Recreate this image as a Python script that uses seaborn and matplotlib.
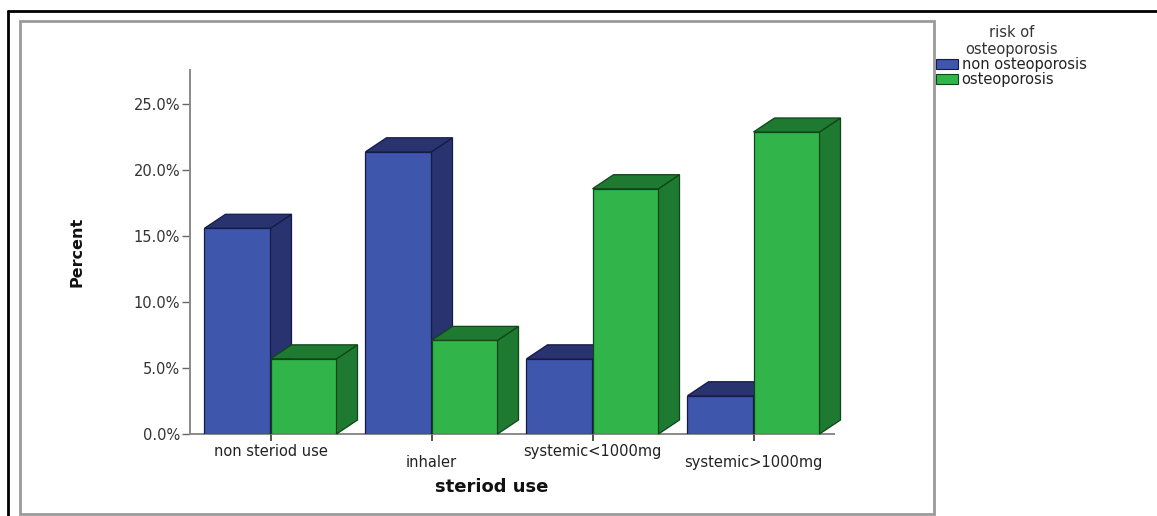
import matplotlib
matplotlib.use("Agg")
import matplotlib.pyplot as plt
import numpy as np
import pandas as pd
import seaborn as sns
from matplotlib.patches import Polygon, Patch, Rectangle
from matplotlib.lines import Line2D

# Percent of patients by steroid use, split by osteoporosis risk
steroid_use = ["non steriod use", "inhaler", "systemic<1000mg", "systemic>1000mg"]
risk_levels = ["non osteoporosis", "osteoporosis"]
pct_non_osteo = [15.6, 21.4, 5.7, 2.9]
pct_osteo = [5.7, 7.1, 18.6, 22.9]
y_ticks = [0, 5, 10, 15, 20, 25]

df = pd.DataFrame({
    "steriod use": steroid_use * 2,
    "risk": [risk_levels[0]] * 4 + [risk_levels[1]] * 4,
    "Percent": pct_non_osteo + pct_osteo,
})

front_col = {"non osteoporosis": "#3F56AD", "osteoporosis": "#31B54B"}
shade_col = {"non osteoporosis": "#29336F", "osteoporosis": "#1F7A31"}
edge_col = {"non osteoporosis": "#151B44", "osteoporosis": "#0E4519"}

sns.set_theme(style="white")
plt.rcParams["font.family"] = ["DejaVu Sans"]

W, H = 1157, 516
fig = plt.figure(figsize=(W / 100, H / 100), dpi=100)
ax_left, ax_right, ax_top, ax_bottom = 190, 834, 70, 434
ax = fig.add_axes([ax_left / W, (H - ax_bottom) / H,
                   (ax_right - ax_left) / W, (ax_bottom - ax_top) / H])

sns.barplot(data=df, x="steriod use", y="Percent", hue="risk",
            order=steroid_use, hue_order=risk_levels, palette=front_col,
            width=0.82, saturation=1, legend=False, errorbar=None,
            linewidth=0.9, ax=ax)

ax.set_xlim(-0.5, 3.5)
ax.set_ylim(0, 27.6)

# depth of the extruded bars, given in pixels and converted to data units
dx = 21 / (ax_right - ax_left) * 4.0
dy = 14 / (ax_bottom - ax_top) * 27.6

bars = list(ax.patches)
bar_info = []
for i, p in enumerate(bars):
    level = risk_levels[i // len(steroid_use)]
    bar_info.append((p.get_x(), p, level))
bar_info.sort(key=lambda t: t[0])

for k, (x0, p, level) in enumerate(bar_info):
    w = p.get_width()
    h = p.get_height()
    z = 2 + k * 0.1
    p.set_facecolor(front_col[level])
    p.set_edgecolor(edge_col[level])
    p.set_zorder(z)
    top = Polygon([(x0, h), (x0 + dx, h + dy), (x0 + w + dx, h + dy), (x0 + w, h)],
                  closed=True, fc=shade_col[level], ec=edge_col[level], lw=0.9,
                  zorder=z, clip_on=False)
    side = Polygon([(x0 + w, 0), (x0 + w, h), (x0 + w + dx, h + dy), (x0 + w + dx, dy)],
                   closed=True, fc=shade_col[level], ec=edge_col[level], lw=0.9,
                   zorder=z, clip_on=False)
    ax.add_patch(side)
    ax.add_patch(top)

# axes styling
for s in ["top", "right"]:
    ax.spines[s].set_visible(False)
for s in ["left", "bottom"]:
    ax.spines[s].set_color("#8a8a8a")
    ax.spines[s].set_linewidth(1.4)
    ax.spines[s].set_zorder(1)

ax.set_yticks(y_ticks)
ax.set_yticklabels([f"{v:.1f}%" for v in y_ticks])
ax.tick_params(axis="y", left=True, length=6, width=1.0, color="#666666",
               labelsize=10.5, labelcolor="#333333", pad=1)
ax.tick_params(axis="x", bottom=True, length=5, width=1.2, color="#333333",
               labelsize=10.5, labelcolor="#222222", pad=2)
ax.set_xticks(range(len(steroid_use)))
ax.set_xticklabels(steroid_use)
for i, t in enumerate(ax.xaxis.get_major_ticks()):
    if i % 2 == 1:
        t.tick1line.set_markersize(14)
        t.set_pad(10)

ax.set_xlabel("steriod use", fontsize=13, fontweight="bold", color="#111111")
ax.xaxis.set_label_coords((492 - ax_left) / (ax_right - ax_left),
                          (ax_bottom - 487) / (ax_bottom - ax_top))
ax.xaxis.label.set_va("center")
ax.set_ylabel("Percent", fontsize=11.5, fontweight="bold", color="#111111")
ax.yaxis.set_label_coords((77 - ax_left) / (ax_right - ax_left), 0.5)
ax.yaxis.label.set_va("center")

# legend
handles = [Patch(facecolor=front_col[l], edgecolor=edge_col[l], linewidth=0.8, label=l)
           for l in risk_levels]
leg = fig.legend(handles=handles, title="risk of\nosteoporosis", loc="upper left",
                 bbox_to_anchor=(936 / W, (H - 25) / H), frameon=False,
                 fontsize=10.5, title_fontsize=10.5, handlelength=1.5,
                 handleheight=0.7, handletextpad=0.25, labelspacing=0.0,
                 borderaxespad=0, borderpad=0, alignment="center")
leg.get_title().set_color("#333333")
leg.get_title().set_multialignment("center")
for txt in leg.get_texts():
    txt.set_color("#222222")

# chart frames
fig.add_artist(Rectangle((20 / W, 2 / H), 914 / W, 493 / H, transform=fig.transFigure,
                         fill=False, ec="#9a9a9a", lw=2))
fig.add_artist(Line2D([8 / W, 8 / W], [0, (H - 11) / H], transform=fig.transFigure,
                      color="black", lw=2))
fig.add_artist(Line2D([8 / W, 1], [(H - 11) / H, (H - 11) / H], transform=fig.transFigure,
                      color="black", lw=2))

fig.savefig("out.png", dpi=100)
